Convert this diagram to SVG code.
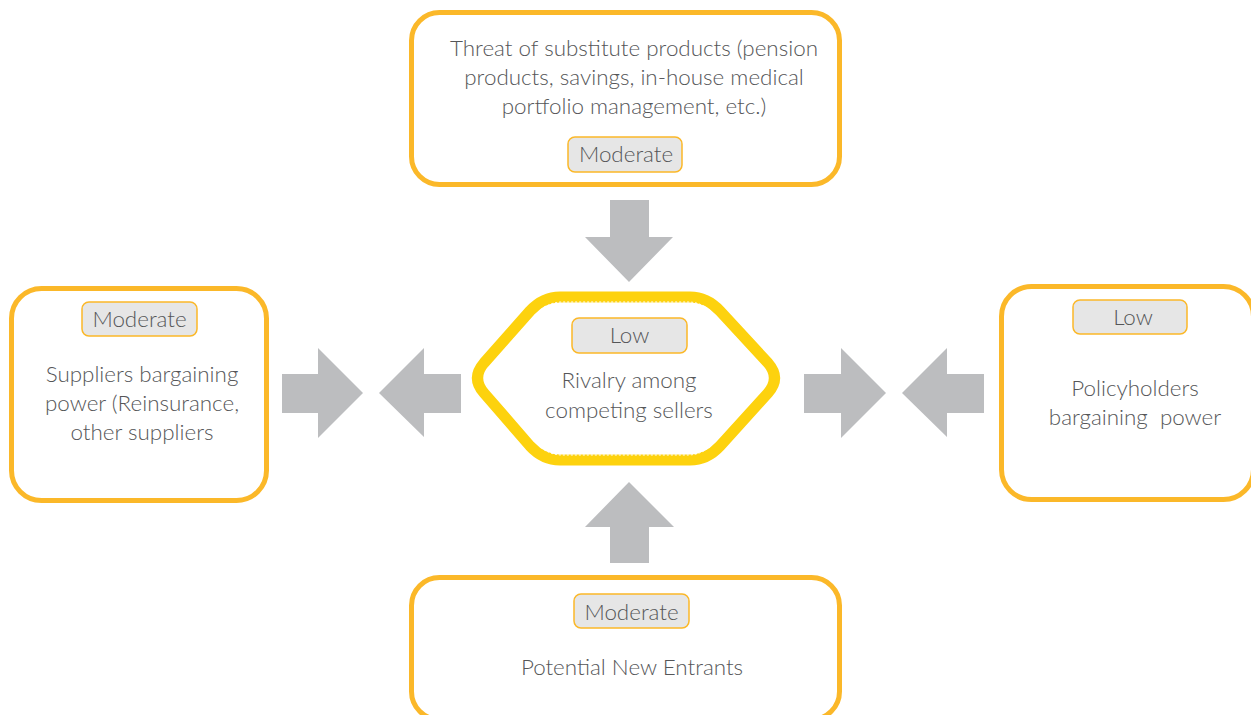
<svg xmlns="http://www.w3.org/2000/svg" width="1251" height="715" viewBox="0 0 1251 715">
<style>
.box{fill:#fff;stroke:#fbb829;stroke-width:5}
.badge{fill:#e6e6e6;stroke:#fbb829;stroke-width:1.5}
.t{font-family:Lato,"Open Sans",sans-serif;font-size:22.4px;font-weight:300;fill:#555658;text-anchor:middle}
.arr{fill:#bcbdbf}
</style>
<rect width="1251" height="715" fill="#fff"/>
<g id="connectors">
<polygon class="arr" points="610,200 649,200 649,237 673,237 629,282 585,237 610,237"/>
<polygon class="arr" points="610,563 649,563 649,527 674,527 629,482 585,527 610,527"/>
<polygon class="arr" points="282,374 318,374 318,348 363,393 318,438 318,413 282,413"/>
<polygon class="arr" points="461,374 424,374 424,348 379,393 424,437 424,413 461,413"/>
<polygon class="arr" points="804,374 841,374 841,348 886,393 841,438 841,413 804,413"/>
<polygon class="arr" points="984,374 947,374 947,348 902,393 947,437 947,413 984,413"/>
</g>
<g id="top">
<rect class="box" x="411.5" y="12.5" width="428" height="172" rx="28"/>
<text class="t" x="634" y="56">Threat of substitute products (pension</text>
<text class="t" x="634" y="85">products, savings, in-house medical</text>
<text class="t" x="634" y="114">portfolio management, etc.)</text>
<rect class="badge" x="568" y="137" width="114" height="35" rx="7"/>
<text class="t" x="626" y="162">Moderate</text>
</g>
<g id="center">
<path d="M484,363 L530,311 Q543,297 560,297 L690,297 Q707,297 720,311 L768,363 Q781,378 768,393 L720,446 Q707,460 690,460 L560,460 Q543,460 530,446 L484,393 Q471,378 484,363 Z" fill="#fff" stroke="#fdd20e" stroke-width="11" stroke-linejoin="round"/>
<path d="M490,366 L535,315 Q547,302 562,302 L688,302 Q703,302 715,315 L762,366 Q773,378 762,390 L715,442 Q703,455 688,455 L562,455 Q547,455 535,442 L490,390 Q479,378 490,366 Z" fill="none" stroke="#fff" stroke-width="1" stroke-dasharray="2 2"/>
<rect class="badge" x="572" y="318" width="115" height="35" rx="7"/>
<text class="t" x="629.5" y="343">Low</text>
<text class="t" x="629" y="388">Rivalry among</text>
<text class="t" x="629" y="418">competing sellers</text>
</g>
<g id="left">
<rect class="box" x="11.5" y="288.5" width="255" height="212" rx="30"/>
<rect class="badge" x="82" y="302" width="115" height="34" rx="7"/>
<text class="t" x="139.5" y="327">Moderate</text>
<text class="t" x="142" y="382">Suppliers bargaining</text>
<text class="t" x="142" y="411">power (Reinsurance,</text>
<text class="t" x="142" y="440">other suppliers</text>
</g>
<g id="right">
<rect class="box" x="1001.5" y="286.5" width="252" height="213" rx="30"/>
<rect class="badge" x="1073" y="300" width="114" height="34" rx="7"/>
<text class="t" x="1133" y="325">Low</text>
<text class="t" x="1135" y="396">Policyholders</text>
<text class="t" x="1135" y="425" xml:space="preserve">bargaining  power</text>
</g>
<g id="bottom">
<rect class="box" x="411.5" y="577.5" width="428" height="142" rx="28"/>
<rect class="badge" x="574" y="594" width="115" height="34" rx="7"/>
<text class="t" x="631.5" y="620">Moderate</text>
<text class="t" x="632" y="675">Potential New Entrants</text>
</g>
</svg>
